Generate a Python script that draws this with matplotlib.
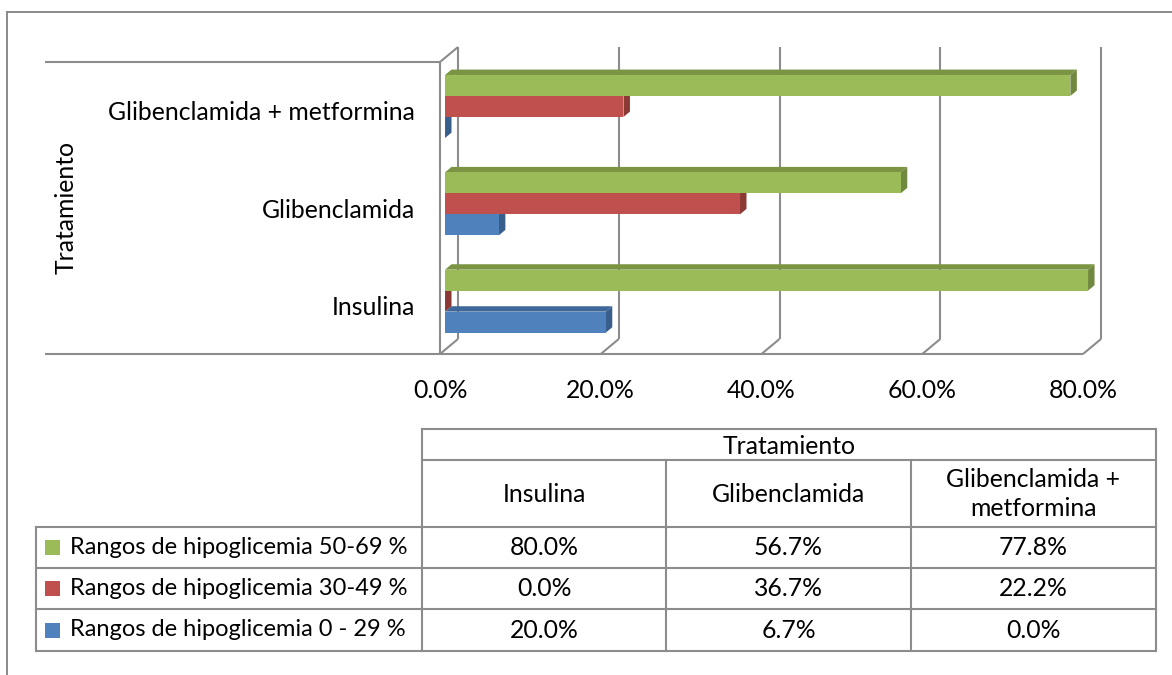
import matplotlib
matplotlib.use("Agg")
import matplotlib.pyplot as plt
from matplotlib.patches import Polygon, Rectangle

plt.rcParams['font.family'] = ['Lato', 'DejaVu Sans']

# ---------------- data ----------------
categories = ["Insulina", "Glibenclamida", "Glibenclamida + metformina"]
series_names = ["Rangos de hipoglicemia 0 - 29 %",
                "Rangos de hipoglicemia 30-49 %",
                "Rangos de hipoglicemia 50-69 %"]
vals_0_29 = [20.0, 6.7, 0.0]
vals_30_49 = [0.0, 36.7, 22.2]
vals_50_69 = [80.0, 56.7, 77.8]
x_ticks = [0, 20, 40, 60, 80]
axis_title = "Tratamiento"
table_header_cats = ["Insulina", "Glibenclamida", "Glibenclamida +\nmetformina"]

series_vals = [vals_0_29, vals_30_49, vals_50_69]
front_cols = ["#4F81BD", "#C0504D", "#9BBB59"]
side_cols = ["#385E8C", "#8C3835", "#71893F"]
top_cols = ["#3E6898", "#9A3E3B", "#7A9443"]

W, H = 1172, 675
fig = plt.figure(figsize=(W / 100, H / 100), dpi=100)

# overlay axes in pixel coordinates for frame/table
ov = fig.add_axes([0, 0, 1, 1])
ov.set_xlim(0, W)
ov.set_ylim(H, 0)
ov.axis("off")

GRID = "#8C8C8C"
FS = 17.8
FS_ROW = 17.0

# chart outer border (top and left visible)
ov.plot([7, W], [12, 12], color="#8A8A8A", lw=1.4)
ov.plot([7, 7], [12, H], color="#8A8A8A", lw=1.4)

# ---------------- 3D bar axes ----------------
px_per_pct = (1083 - 440) / 80.0
px_per_cat = (354 - 62) / 3.0
ax_left, ax_right, ax_top, ax_bot = 440, 1101, 47, 354
ax = fig.add_axes([ax_left / W, (H - ax_bot) / H,
                   (ax_right - ax_left) / W, (ax_bot - ax_top) / H])
ax.set_xlim(0, (ax_right - ax_left) / px_per_pct)
ax.set_ylim(0, (ax_bot - ax_top) / px_per_cat)
ax.axis("off")

DX = 18 / px_per_pct
DY = 15 / px_per_cat
ncat = len(categories)
gkw = dict(color=GRID, lw=1.5, solid_capstyle="butt", clip_on=False)

# walls / gridlines
for v in x_ticks:
    ax.plot([v + DX, v + DX], [DY, ncat + DY], **gkw)
    ax.plot([v, v + DX], [0, DY], **gkw)
ax.plot([0, x_ticks[-1]], [0, 0], **gkw)
ax.plot([0, 0], [0, ncat], **gkw)
ax.plot([0, DX], [ncat, ncat + DY], **gkw)

# lines extending to the left (category axis band)
left_x = (45 - 440) / px_per_pct
ax.plot([left_x, 0], [0, 0], **gkw)
ax.plot([left_x, 0], [ncat, ncat], **gkw)

# bars
f0, fd = 0.28, 0.36
bh = 21 / px_per_cat
for ci in range(ncat):
    for si in range(len(series_vals)):
        v = series_vals[si][ci]
        x0 = f0 * DX
        x1 = x0 + v
        yc = ci + 0.5 + (si - 1) * bh + f0 * DY
        y0, y1 = yc - bh / 2, yc + bh / 2
        ddx, ddy = fd * DX, fd * DY
        # top face
        ax.add_patch(Polygon([(x0, y1), (x0 + ddx, y1 + ddy), (x1 + ddx, y1 + ddy), (x1, y1)],
                             closed=True, fc=top_cols[si], ec="none", zorder=3))
        # side face
        ax.add_patch(Polygon([(x1, y0), (x1 + ddx, y0 + ddy), (x1 + ddx, y1 + ddy), (x1, y1)],
                             closed=True, fc=side_cols[si], ec="none", zorder=3))
        # front face
        if v > 0:
            ax.barh(yc, v, height=bh, left=x0, color=front_cols[si],
                    edgecolor="none", zorder=3)

# x tick labels
for v in x_ticks:
    ax.text(v, (354 - 390) / px_per_cat, f"{v:.1f}%", ha="center", va="center",
            fontsize=FS, color="black", clip_on=False)

# category labels
for ci, c in enumerate(categories):
    ax.text(-25 / px_per_pct, ci + 0.5 - 2 / px_per_cat, c, ha="right", va="center",
            fontsize=FS, color="black", clip_on=False)

# axis title
fig.text(66 / W, 1 - 208 / H, axis_title, rotation=90, ha="center", va="center",
         fontsize=FS, color="black")

# ---------------- data table ----------------
tk = dict(color=GRID, lw=1.5, solid_capstyle="projecting")
col_x = [422, 666, 911, 1156]
row_y = [527, 568, 609, 651]
ov.plot([422, 1156], [429, 429], **tk)
ov.plot([422, 1156], [460, 460], **tk)
for y in row_y:
    ov.plot([36, 1156], [y, y], **tk)
ov.plot([36, 36], [527, 651], **tk)
ov.plot([422, 422], [429, 651], **tk)
ov.plot([1156, 1156], [429, 651], **tk)
for x in col_x[1:3]:
    ov.plot([x, x], [460, 651], **tk)

ov.text((422 + 1156) / 2, 446, axis_title, ha="center", va="center", fontsize=FS)
for i, lab in enumerate(table_header_cats):
    ov.text((col_x[i] + col_x[i + 1]) / 2, 494, lab, ha="center", va="center",
            fontsize=FS, linespacing=1.3)

# rows: top row = highest series
for r in range(3):
    si = 2 - r
    yc = (row_y[r] + row_y[r + 1]) / 2
    ov.add_patch(Rectangle((45, yc - 7.5), 15, 15, fc=front_cols[si], ec="none"))
    ov.text(70, yc, series_names[si], ha="left", va="center", fontsize=FS_ROW)
    for ci in range(ncat):
        ov.text((col_x[ci] + col_x[ci + 1]) / 2, yc, f"{series_vals[si][ci]:.1f}%",
                ha="center", va="center", fontsize=FS)

fig.savefig("out.png", dpi=100)
